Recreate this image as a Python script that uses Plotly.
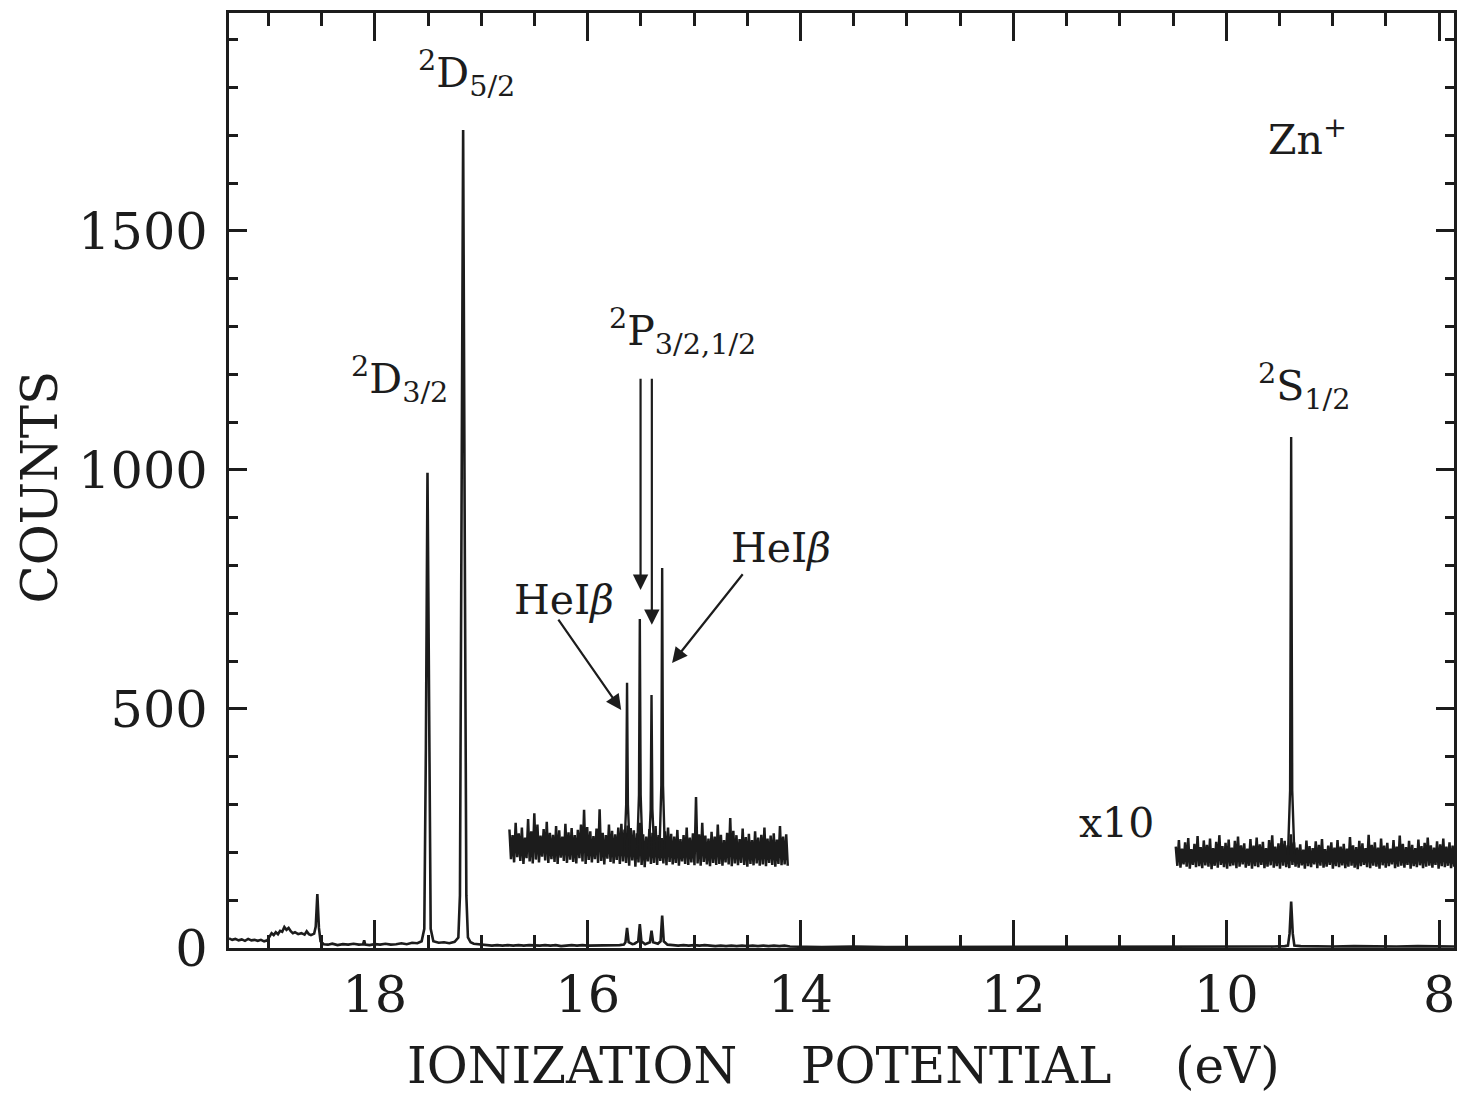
import numpy as np
import plotly.graph_objects as go

# ---------------- data ----------------
# Main (unscaled) spectrum: ionization potential (eV) and counts
main_ev = [19.37, 19.34, 19.31, 19.28, 19.25, 19.22, 19.19, 19.16, 19.13, 19.10, 19.07, 19.04, 19.01,
           18.99, 18.97, 18.95, 18.93, 18.91, 18.89, 18.87, 18.85, 18.83, 18.81, 18.79, 18.77, 18.75,
           18.72, 18.69, 18.66, 18.64, 18.62, 18.60, 18.57, 18.555, 18.54, 18.525, 18.51, 18.48, 18.44,
           18.40, 18.35, 18.30, 18.25, 18.20, 18.15, 18.11, 18.10, 18.09, 18.05, 18.00, 17.95, 17.90,
           17.85, 17.80, 17.75, 17.70, 17.65, 17.60, 17.56, 17.535, 17.52, 17.505, 17.49, 17.475, 17.45,
           17.40, 17.35, 17.30, 17.25, 17.215, 17.20, 17.185, 17.17, 17.155, 17.14, 17.125, 17.10, 17.07,
           17.00, 16.95, 16.90, 16.85, 16.80, 16.75, 16.70, 16.65, 16.60, 16.55, 16.50, 16.45, 16.40,
           16.35, 16.30, 16.25, 16.20, 16.15, 16.10, 16.05, 16.00, 15.95, 15.90, 15.85, 15.80, 15.75,
           15.70, 15.66, 15.645, 15.63, 15.615, 15.58, 15.56, 15.525, 15.51, 15.495, 15.46, 15.415,
           15.40, 15.385, 15.34, 15.315, 15.30, 15.285, 15.25, 15.20, 15.15, 15.10, 15.05, 15.00, 14.95,
           14.90, 14.85, 14.80, 14.75, 14.70, 14.65, 14.60, 14.55, 14.50, 14.45, 14.40, 14.35, 14.30,
           14.25, 14.20, 14.15, 14.10, 13.8, 13.5, 13.2, 12.9, 12.6, 12.3, 12.0, 11.7, 11.4, 11.1, 10.8,
           10.5, 10.3, 10.1, 9.9, 9.7, 9.55, 9.45, 9.42, 9.405, 9.39, 9.375, 9.36, 9.30, 9.15, 9.0,
           8.8, 8.6, 8.4, 8.2, 8.0, 7.86]
main_counts = [20, 17, 19, 16, 18, 15, 19, 16, 17, 15, 17, 14, 16,
               24, 31, 27, 33, 29, 36, 34, 44, 38, 42, 35, 31, 33,
               29, 31, 28, 35, 29, 27, 30, 45, 113, 42, 14, 8, 7,
               9, 6, 8, 7, 9, 7, 8, 16, 7, 6, 8, 7, 9,
               7, 8, 10, 8, 11, 10, 14, 40, 420, 994, 420, 40, 14,
               11, 12, 10, 13, 22, 110, 860, 1711, 860, 110, 22, 12, 9,
               7, 6, 5, 6, 5, 6, 5, 6, 5, 6, 5, 5, 6,
               5, 6, 4, 5, 6, 5, 6, 5, 5, 6, 5, 6, 5,
               6, 7, 12, 42, 12, 8, 9, 14, 50, 14, 8, 12,
               36, 12, 9, 14, 68, 14, 7, 6, 5, 6, 5, 6, 5,
               6, 5, 4, 5, 4, 5, 4, 5, 4, 5, 4, 5, 4,
               5, 4, 5, 3, 2, 3, 2, 2, 3, 2, 2, 3, 2, 2, 3,
               3, 3, 2, 3, 3, 3, 4, 5, 30, 97, 30, 5, 4, 3, 3,
               4, 3, 3, 4, 3, 3]

# x10 expanded traces: channel ranges and noise envelope (upper / lower) values
x10a_range = [16.735, 14.12]
x10a_hi = [248, 236, 262, 240, 252, 231, 270, 244, 282, 258, 235, 249, 264, 241, 237, 255,
           246, 233, 260, 242, 251, 236, 247, 258, 289, 253, 244, 234, 250, 290, 241, 236,
           258, 245, 238, 252, 260, 248, 256, 251, 246, 240, 262, 238, 233, 249, 241, 255,
           236, 230, 244, 252, 239, 233, 247, 228, 236, 252, 231, 240, 316, 238, 262, 235,
           229, 243, 233, 258, 237, 226, 241, 272, 245, 236, 228, 250, 232, 239, 226, 244,
           231, 237, 252, 229, 235, 240, 227, 255, 233, 238]
x10a_lo = [186, 179, 190, 182, 176, 188, 181, 177, 185, 179, 191, 183, 178, 186, 180, 176,
           189, 182, 178, 185, 180, 177, 188, 181, 176, 184, 179, 186, 178, 182, 175, 187,
           180, 177, 184, 176, 181, 178, 172, 183, 170, 179, 174, 169, 181, 176, 178, 174,
           182, 177, 173, 180, 175, 178, 172, 181, 176, 174, 179, 173, 177, 172, 180, 175,
           171, 178, 174, 176, 172, 179, 175, 171, 177, 173, 178, 174, 170, 176, 173, 177,
           172, 175, 171, 178, 174, 170, 176, 173, 175, 172]

x10b_range = [10.474, 7.80]
x10b_hi = [212, 226, 208, 221, 230, 207, 218, 234, 211, 225, 216, 229, 209, 222, 236, 213,
           220, 227, 210, 224, 233, 215, 219, 208, 228, 214, 231, 217, 222, 209, 226, 236,
           212, 219, 230, 224, 215, 238, 221, 210, 217, 206, 225, 213, 209, 223, 216, 228,
           207, 214, 221, 210, 226, 212, 218, 208, 232, 215, 211, 224, 219, 209, 237, 216,
           221, 210, 229, 214, 220, 208, 226, 212, 235, 218, 211, 224, 216, 209, 227, 213,
           220, 231, 215, 210, 223, 217, 229, 212, 221, 214, 226, 218]
x10b_lo = [172, 168, 175, 170, 166, 174, 169, 171, 167, 173, 170, 165, 172, 168, 174, 169,
           166, 171, 173, 167, 170, 175, 168, 172, 166, 171, 169, 174, 167, 170, 173, 168,
           171, 166, 172, 169, 167, 174, 170, 168, 173, 166, 171, 169, 175, 167, 172, 168,
           170, 174, 166, 171, 169, 173, 167, 170, 172, 168, 165, 171, 174, 169, 167, 172,
           170, 166, 173, 168, 171, 175, 167, 170, 172, 168, 174, 166, 171, 169, 173, 167,
           170, 172, 168, 174, 166, 171, 169, 172, 167, 170, 173, 168]

# x10 peaks (explicit line profiles, None separates peaks)
x10_pk_ev = [15.655, 15.638, 15.63, 15.622, 15.605, None,
             15.535, 15.518, 15.51, 15.502, 15.485, None,
             15.425, 15.408, 15.40, 15.392, 15.375, None,
             15.325, 15.308, 15.30, 15.292, 15.275, None,
             9.42, 9.40, 9.39, 9.38, 9.36]
x10_pk_counts = [205, 300, 555, 300, 205, None,
                 205, 320, 688, 320, 205, None,
                 205, 290, 529, 290, 205, None,
                 205, 340, 795, 340, 205, None,
                 195, 330, 1069, 330, 195]

# axis ticks
x_tickvals = [18, 16, 14, 12, 10, 8]
x_ticktext = ["18", "16", "14", "12", "10", "8"]
x_minor = [19.0, 18.5, 17.5, 17.0, 16.5, 15.5, 15.0, 14.5, 13.5, 13.0, 12.5,
           11.5, 11.0, 10.5, 9.5, 9.0, 8.5]
y_tickvals = [0, 500, 1000, 1500]
y_ticktext = ["0", "500", "1000", "1500"]
y_minor = [100, 200, 300, 400, 600, 700, 800, 900, 1100, 1200, 1300, 1400,
           1600, 1700, 1800, 1900]

# ---------------- figure ----------------
INK = "#1c1c1c"
FONT = "DejaVu Serif"


def zigzag(rng, hi, lo):
    n = len(hi)
    xs = np.linspace(rng[0], rng[1], 2 * n)
    ys = []
    for h, l in zip(hi, lo):
        ys.extend([h, l])
    return xs, ys


fig = go.Figure()

fig.add_trace(go.Scatter(x=main_ev, y=main_counts, mode="lines",
                         line=dict(color=INK, width=2.6), hoverinfo="skip"))

xa, ya = zigzag(x10a_range, x10a_hi, x10a_lo)
fig.add_trace(go.Scatter(x=xa, y=ya, mode="lines",
                         line=dict(color=INK, width=2.5), hoverinfo="skip"))
xb, yb = zigzag(x10b_range, x10b_hi, x10b_lo)
fig.add_trace(go.Scatter(x=xb, y=yb, mode="lines",
                         line=dict(color=INK, width=2.5), hoverinfo="skip"))
fig.add_trace(go.Scatter(x=x10_pk_ev, y=x10_pk_counts, mode="lines",
                         line=dict(color=INK, width=2.4), hoverinfo="skip",
                         connectgaps=False))

tick_font = dict(family=FONT, size=51, color=INK)

fig.update_layout(
    width=1460, height=1101,
    margin=dict(l=229, r=3, t=13, b=153),
    paper_bgcolor="white", plot_bgcolor="white",
    showlegend=False,
    xaxis=dict(range=[19.37, 7.86], tickmode="array", tickvals=x_tickvals, ticktext=x_ticktext,
               ticks="inside", ticklen=28, tickwidth=2.5, tickcolor=INK,
               minor=dict(tickmode="array", tickvals=x_minor, ticks="inside", ticklen=13,
                          tickwidth=2.5, tickcolor=INK),
               showline=True, linewidth=3, linecolor=INK, mirror="allticks",
               showgrid=False, zeroline=False, tickfont=tick_font, ticklabelstandoff=0),
    yaxis=dict(range=[0, 1956], tickmode="array", tickvals=y_tickvals, ticktext=y_ticktext,
               ticks="inside", ticklen=18, tickwidth=2.5, tickcolor=INK,
               minor=dict(tickmode="array", tickvals=y_minor, ticks="inside", ticklen=9,
                          tickwidth=2.5, tickcolor=INK),
               showline=True, linewidth=3, linecolor=INK, mirror="allticks",
               showgrid=False, zeroline=False, tickfont=tick_font, ticklabelstandoff=8),
)

ann = []
# axis titles
ann.append(dict(text="IONIZATION\u00a0\u00a0\u00a0\u00a0POTENTIAL\u00a0\u00a0\u00a0\u00a0(eV)",
                xref="paper", yref="paper", x=0.5016, y=-0.126, xanchor="center",
                yanchor="middle", showarrow=False, font=dict(family=FONT, size=50, color=INK)))
ann.append(dict(text="COUNTS", xref="paper", yref="paper", x=-0.154, y=0.493,
                xanchor="center", yanchor="middle", textangle=-90, showarrow=False,
                font=dict(family=FONT, size=50, color=INK)))

lab_font = dict(family=FONT, size=41, color=INK)
labels = [
    ("<sup>2</sup>D<sub>5/2</sub>", 17.138, 1830),
    ("<sup>2</sup>D<sub>3/2</sub>", 17.766, 1190),
    ("<sup>2</sup>P<sub>3/2,1/2</sub>", 15.113, 1290),
    ("<sup>2</sup>S<sub>1/2</sub>", 9.265, 1175),
    ("HeI<i>β</i>", 16.219, 728),
    ("HeI<i>β</i>", 14.186, 837),
]
for t, x, y in labels:
    ann.append(dict(text=t, x=x, y=y, xref="x", yref="y", showarrow=False,
                    xanchor="center", yanchor="middle", font=lab_font))
ann.append(dict(text="Zn<sup>+</sup>", x=9.237, y=1697, xref="x", yref="y", showarrow=False,
                xanchor="center", yanchor="middle", font=dict(family=FONT, size=41, color=INK)))
ann.append(dict(text="x10", x=11.027, y=262, xref="x", yref="y", showarrow=False,
                xanchor="center", yanchor="middle", font=dict(family=FONT, size=41, color=INK)))

# arrows (head x,y ; tail ax,ay) in data coordinates
arrows = [
    (15.503, 749, 15.503, 1194),
    (15.397, 676, 15.397, 1194),
    (15.685, 498, 16.285, 690),
    (15.207, 596, 14.532, 785),
]
for x, y, ax_, ay_ in arrows:
    ann.append(dict(x=x, y=y, ax=ax_, ay=ay_, xref="x", yref="y", axref="x", ayref="y",
                    text="", showarrow=True, arrowhead=2, arrowsize=1.4, arrowwidth=2.2,
                    arrowcolor=INK, standoff=0))

fig.update_layout(annotations=ann)

fig.write_html("out.html", config={"displayModeBar": False},
               post_script="document.body.style.margin='0';document.body.style.overflow='hidden';")
